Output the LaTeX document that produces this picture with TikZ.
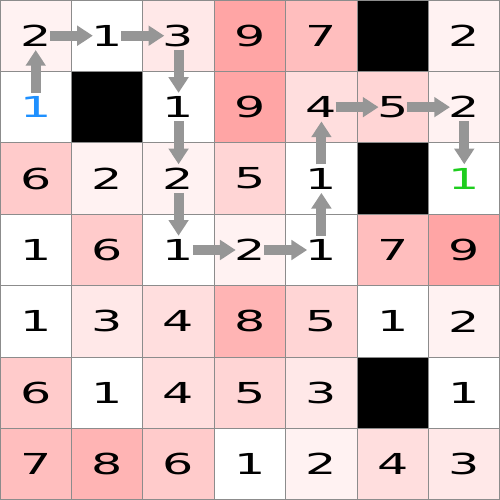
\documentclass[tikz,border=0pt]{standalone}
\usepackage{fontspec}
\setmainfont{DejaVu Sans}
\usepackage{graphicx}
\usetikzlibrary{arrows.meta}
\definecolor{v1}{RGB}{255,255,255}
\definecolor{v2}{RGB}{255,242,242}
\definecolor{v3}{RGB}{255,232,232}
\definecolor{v4}{RGB}{255,222,222}
\definecolor{v5}{RGB}{255,213,213}
\definecolor{v6}{RGB}{255,203,203}
\definecolor{v7}{RGB}{255,190,190}
\definecolor{v8}{RGB}{255,180,180}
\definecolor{v9}{RGB}{255,165,165}
\definecolor{gridc}{RGB}{140,140,140}
\definecolor{arrc}{RGB}{150,150,150}
\definecolor{startc}{RGB}{30,144,255}
\definecolor{goalc}{RGB}{30,205,30}
\newcommand{\dg}[1]{\scalebox{1.7}[1]{#1}}
\tikzset{
  cell/.style={draw=gridc, line width=0.4pt, minimum size=1cm, inner sep=0pt, outer sep=0pt,
    font=\fontsize{11.5}{12}\selectfont},
  wall/.style={cell, fill=black},
  mv/.style={draw=arrc, line width=0.14cm, shorten <=0.2cm, shorten >=0.2cm,
    -{Triangle[length=0.22cm, width=0.27cm]}}
}
\begin{document}
\begin{tikzpicture}
\useasboundingbox (0,0) rectangle (7,7);
\foreach \r/\c/\v in {
 0/0/2, 0/1/1, 0/2/3, 0/3/9, 0/4/7, 0/6/2,
 1/2/1, 1/3/9, 1/4/4, 1/5/5, 1/6/2,
 2/0/6, 2/1/2, 2/2/2, 2/3/5, 2/4/1,
 3/0/1, 3/1/6, 3/2/1, 3/3/2, 3/4/1, 3/5/7, 3/6/9,
 4/0/1, 4/1/3, 4/2/4, 4/3/8, 4/4/5, 4/5/1, 4/6/2,
 5/0/6, 5/1/1, 5/2/4, 5/3/5, 5/4/3, 5/6/1,
 6/0/7, 6/1/8, 6/2/6, 6/3/1, 6/4/2, 6/5/4, 6/6/3}
 {\node[cell, fill=v\v] (n\r\c) at (\c+0.5, 6.5-\r) {\dg{\v}};}
\node[cell, fill=v1, text=startc] (n10) at (0.5,5.5) {\dg{1}};
\node[cell, fill=v1, text=goalc] (n26) at (6.5,4.5) {\dg{1}};
\node[wall] (n05) at (5.5,6.5) {};
\node[wall] (n11) at (1.5,5.5) {};
\node[wall] (n25) at (5.5,4.5) {};
\node[wall] (n55) at (5.5,1.5) {};
\draw[mv] (n10.center) -- (n00.center);
\draw[mv] (n00.center) -- (n01.center);
\draw[mv] (n01.center) -- (n02.center);
\draw[mv] (n02.center) -- (n12.center);
\draw[mv] (n12.center) -- (n22.center);
\draw[mv] (n22.center) -- (n32.center);
\draw[mv] (n32.center) -- (n33.center);
\draw[mv] (n33.center) -- (n34.center);
\draw[mv] (n34.center) -- (n24.center);
\draw[mv] (n24.center) -- (n14.center);
\draw[mv] (n14.center) -- (n15.center);
\draw[mv] (n15.center) -- (n16.center);
\draw[mv] (n16.center) -- (n26.center);
\end{tikzpicture}
\end{document}
